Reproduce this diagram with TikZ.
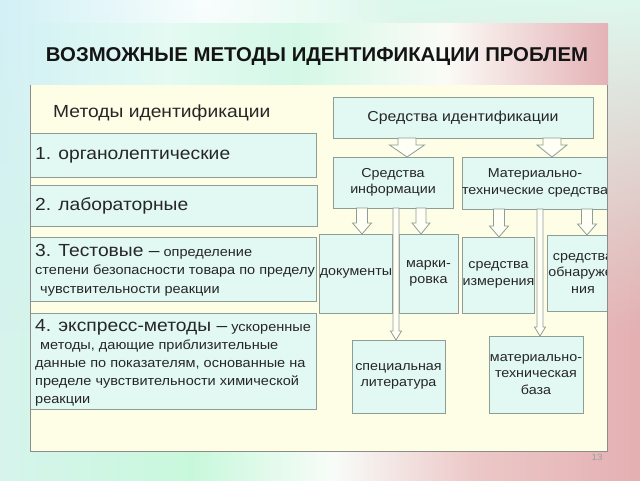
\documentclass[tikz,border=0pt]{standalone}
\usepackage{fontspec}
\usepackage{graphicx}
\setmainfont{Liberation Sans}[FakeStretch=1.1]
\newfontfamily\titlefont{Liberation Sans}
\usetikzlibrary{calc,fadings}
\definecolor{boxfill}{HTML}{E2F9F3}
\definecolor{boxline}{HTML}{8E9E96}
\definecolor{panelfill}{HTML}{FEFEE7}
\definecolor{panelline}{HTML}{8C8C8C}
\definecolor{txtcol}{HTML}{262626}
\definecolor{tA}{HTML}{D4F2F4}
\definecolor{tB}{HTML}{E4FAF2}
\definecolor{tC}{HTML}{D4F8E6}
\definecolor{tW}{HTML}{FBFBF6}
\definecolor{tD}{HTML}{E4B2B6}
\definecolor{bA}{HTML}{D6F4EC}
\definecolor{bB}{HTML}{C8F8DC}
\definecolor{bC}{HTML}{F8FCF8}
\definecolor{bD}{HTML}{ECC8C8}
\definecolor{bE}{HTML}{E4B0B2}
\definecolor{uA}{HTML}{D2F0F6}
\definecolor{uB}{HTML}{FAFEFE}
\definecolor{uC}{HTML}{DCF8EC}
\definecolor{uD}{HTML}{DEF8EE}
\pgfdeclarehorizontalshading{titleshade}{100bp}{color(0bp)=(tA); color(25bp)=(tA); color(37bp)=(tB); color(48bp)=(tC); color(61bp)=(tW); color(75bp)=(tD); color(100bp)=(tD)}
\pgfdeclarehorizontalshading{bgbottom}{100bp}{color(0bp)=(bA); color(25bp)=(bA); color(40bp)=(bB); color(51bp)=(bC); color(62bp)=(bD); color(75bp)=(bE); color(100bp)=(bE)}
\pgfdeclarehorizontalshading{bgtop}{100bp}{color(0bp)=(uA); color(25bp)=(uA); color(41bp)=(uB); color(56bp)=(uC); color(75bp)=(uD); color(100bp)=(uD)}
\tikzfading[name=fadedown, top color=transparent!0, bottom color=transparent!100]
\newcommand{\blockarr}[6]{%
  \draw[blkarrow] let \p1=(#1,0 |- #2), \p2=(#1,0 |- #3) in
    ({\x1-#4pt},\y1) -- ({\x1-#4pt},{\y2+#6pt}) -- ({\x1-#5pt},{\y2+#6pt}) -- (\x1,\y2)
    -- ({\x1+#5pt},{\y2+#6pt}) -- ({\x1+#4pt},{\y2+#6pt}) -- ({\x1+#4pt},\y1) -- cycle;}
\begin{document}
\begin{tikzpicture}[x=1pt,y=-1pt,
  box/.style={draw=boxline, fill=boxfill, line width=0.9pt, inner sep=0pt, outer sep=0pt},
  txt/.style={text=txtcol, inner sep=0pt},
  bigtxt/.style={txt, font=\fontsize{17.5}{21}\selectfont},
  rbox/.style={box, text=txtcol, align=center, font=\fontsize{13}{16.5}\selectfont},
  blkarrow/.style={draw=boxline, fill=white!60!panelfill, line width=0.8pt, line join=miter}]
\useasboundingbox (0,0) rectangle (640,480);
% background
\shade[shading=bgbottom] (0,0) rectangle (640,480);
\shade[shading=bgtop, path fading=fadedown] (0,0) rectangle (640,330);
\shade[shading=titleshade] (29,23) rectangle (608,85);
\fill[panelfill] (29.5,85) rectangle (607.5,451);
% title
\node[txt, anchor=base, text=black!92] (title) at (317,61)
  {\resizebox{542pt}{\height}{\titlefont\fontsize{20}{24}\selectfont\bfseries ВОЗМОЖНЫЕ МЕТОДЫ ИДЕНТИФИКАЦИИ ПРОБЛЕМ}};
% left column
\node[bigtxt, anchor=base west] (mhead) at (53,117) {Методы идентификации};
\node[box, anchor=north west, minimum width=286pt, minimum height=44pt] (m1) at (30,133) {};
\node[bigtxt, anchor=west] (m1t) at ([xshift=5pt]m1.west) {1. органолептические};
\node[box, anchor=north west, minimum width=287pt, minimum height=41pt] (m2) at (30,185) {};
\node[bigtxt, anchor=west] (m2t) at ([xshift=5pt]m2.west) {2. лабораторные};
\node[box, anchor=north west, minimum width=286pt, minimum height=64pt] (m3) at (30,237) {};
\node[txt, anchor=west, align=left, font=\fontsize{13.2}{18.5}\selectfont] (m3t) at ([xshift=5pt,yshift=-1pt]m3.west)
  {{\fontsize{17.5}{18.5}\selectfont 3. Тестовые –} определение\\
   степени безопасности товара по пределу\\
   \hspace*{5pt}чувствительности реакции};
\node[box, anchor=north west, minimum width=286pt, minimum height=96pt] (m4) at (30,313) {};
\node[txt, anchor=west, align=left, font=\fontsize{13.2}{18}\selectfont] (m4t) at ([xshift=5pt,yshift=-2pt]m4.west)
  {{\fontsize{17.5}{18}\selectfont 4. экспресс-методы –} ускоренные\\
   \hspace*{5pt}методы, дающие приблизительные\\
   данные по показателям, основанные на\\
   пределе чувствительности химической\\
   реакции};
% right column
\begin{scope}
\clip (0,0) rectangle (607.5,480);
\node[rbox, font=\fontsize{14.4}{17}\selectfont, minimum width=260pt, minimum height=41pt] (top) at (463,117.5) {Средства идентификации};
\node[rbox, minimum width=120pt, minimum height=51pt] (inf) at (393,182.5) {Средства\\информации};
\node[rbox, minimum width=146pt, minimum height=52pt] (mat) at (535,183) {Материально-\\технические средства};
\node[rbox, minimum width=72pt, minimum height=79pt] (doc) at (356,273.5) {документы};
\node[rbox, minimum width=59pt, minimum height=79pt] (mark) at (428.5,273.5) {марки-\\ровка};
\node[rbox, minimum width=71pt, minimum height=76pt] (izm) at (498.5,275) {средства\\измерения};
\node[rbox, minimum width=72pt, minimum height=76pt] (obn) at (583,273) {средства\\обнаруже-\\ния};
\node[rbox, minimum width=93pt, minimum height=73pt] (lit) at (398.5,376.5) {специальная\\литература};
\node[rbox, minimum width=94pt, minimum height=77pt] (baza) at (536,374.5) {материально-\\техническая\\база};
% arrows
\blockarr{407}{top.south}{inf.north}{9}{17.5}{12}
\blockarr{552}{top.south}{mat.north}{9}{15}{12}
\blockarr{362}{inf.south}{doc.north}{5.5}{9.5}{11}
\blockarr{421}{inf.south}{mark.north}{5}{9}{11}
\blockarr{499}{mat.south}{izm.north}{5.5}{9.5}{11}
\blockarr{587}{mat.south}{obn.north}{5.5}{9.5}{11}
\blockarr{396}{inf.south}{lit.north}{3}{5.5}{9}
\blockarr{540}{mat.south}{baza.north}{3}{5.5}{9}
\end{scope}
% panel border
\draw[panelline, line width=0.9pt] (30,85) -- (30,451) -- (607.5,451) -- (607.5,85);
\node[txt, text=black!38, font=\fontsize{9}{10}\selectfont] (pnum) at (597,457) {13};
\end{tikzpicture}
\end{document}
